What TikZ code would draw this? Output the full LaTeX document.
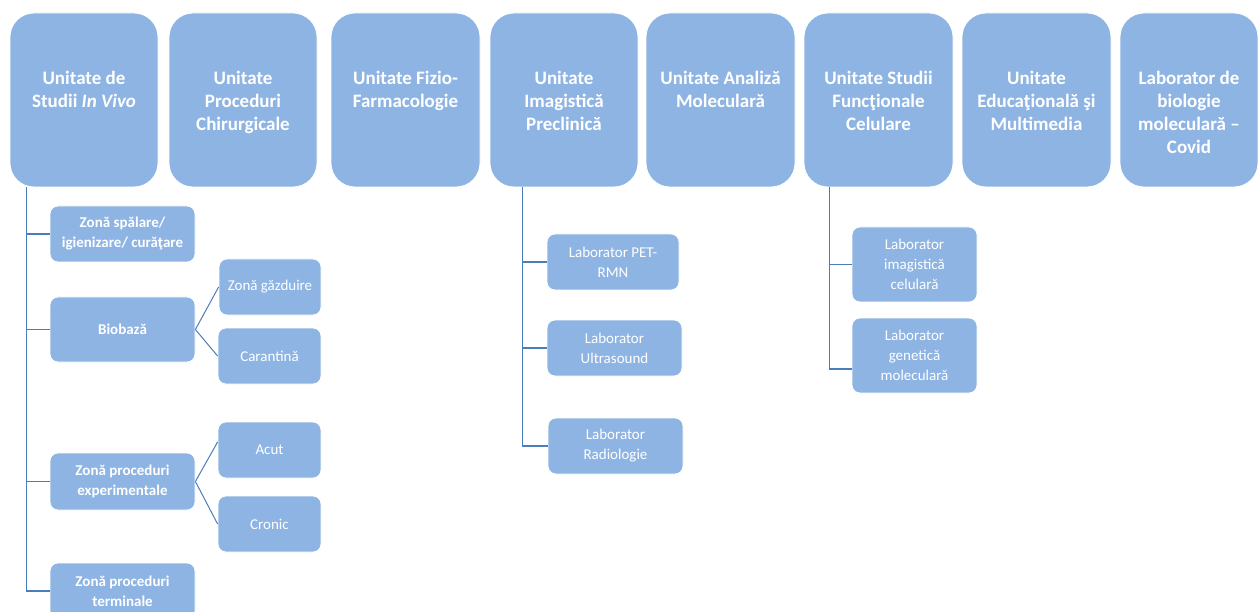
\documentclass[tikz,border=0pt]{standalone}
\usepackage{fontspec}
\setmainfont{Carlito}
\usetikzlibrary{calc}
\definecolor{boxblue}{RGB}{142,180,227}
\definecolor{linblue}{RGB}{74,126,187}
\begin{document}
\begin{tikzpicture}[x=1pt,y=-1pt,
  topbox/.style={fill=boxblue, draw=white, line width=0.8pt, rounded corners=24pt, minimum height=174pt, inner sep=0pt},
  toptext/.style={anchor=north, align=center, text=white, inner sep=0pt, font=\bfseries\fontsize{19}{23}\selectfont},
  subbold/.style={fill=boxblue, draw=white, line width=0.8pt, rounded corners=8pt, align=center, text=white, inner sep=0pt, font=\bfseries\fontsize{15}{20}\selectfont},
  subreg/.style={fill=boxblue, draw=white, line width=0.8pt, rounded corners=8pt, align=center, text=white, inner sep=0pt, font=\fontsize{15}{20}\selectfont},
  conn/.style={draw=linblue, line width=1.3pt}]
\useasboundingbox (0,0) rectangle (1258,612);
\clip (0,0) rectangle (1258,612);

% top units
\node[topbox, minimum width=148pt] (u1) at (84,100) {};
\node[topbox, minimum width=148pt] (u2) at (243,100) {};
\node[topbox, minimum width=149pt] (u3) at (405.5,100) {};
\node[topbox, minimum width=148pt] (u4) at (564,100) {};
\node[topbox, minimum width=149pt] (u5) at (720.5,100) {};
\node[topbox, minimum width=149pt] (u6) at (878.5,100) {};
\node[topbox, minimum width=149pt] (u7) at (1036.5,100) {};
\node[topbox, minimum width=138pt] (u8) at (1189,100) {};

\node[toptext] (t1) at (84,71) {Unitate de\\Studii \textit{In Vivo}};
\node[toptext] (t2) at (243,71) {Unitate\\Proceduri\\Chirurgicale};
\node[toptext] (t3) at (405.5,71) {Unitate Fizio-\\Farmacologie};
\node[toptext] (t4) at (564,71) {Unitate\\Imagistică\\Preclinică};
\node[toptext] (t5) at (720.5,71) {Unitate Analiză\\Moleculară};
\node[toptext] (t6) at (878.5,71) {Unitate Studii\\Funcţionale\\Celulare};
\node[toptext] (t7) at (1036.5,71) {Unitate\\Educaţională şi\\Multimedia};
\node[toptext] (t8) at (1189,71) {Laborator de\\biologie\\moleculară –\\Covid};

% left column
\node[subbold, minimum width=145pt, minimum height=56pt] (s1) at (122.5,234) {Zonă spălare/\\igienizare/ curăţare};
\node[subbold, minimum width=145pt, minimum height=65pt] (s2) at (122.5,329.5) {Biobază};
\node[subbold, minimum width=145pt, minimum height=57pt] (s3) at (122.5,481.5) {Zonă proceduri\\experimentale};
\node[subbold, minimum width=145pt, minimum height=56pt] (s4) at (122.5,591) {Zonă proceduri\\terminale};

\node[subreg, minimum width=102pt, minimum height=56pt] (g1) at (270,287) {Zonă găzduire};
\node[subreg, minimum width=103pt, minimum height=56pt] (g2) at (269.5,356) {Carantină};
\node[subreg, minimum width=103pt, minimum height=56pt] (a1) at (269.5,450) {Acut};
\node[subreg, minimum width=103pt, minimum height=56pt] (a2) at (269.5,524) {Cronic};

% middle column
\node[subreg, minimum width=132pt, minimum height=56pt] (m1) at (613,262) {Laborator PET-\\RMN};
\node[subreg, minimum width=135pt, minimum height=56pt] (m2) at (614.5,348) {Laborator\\Ultrasound};
\node[subreg, minimum width=135pt, minimum height=56pt] (m3) at (615.5,446) {Laborator\\Radiologie};

% right column
\node[subreg, minimum width=125pt, minimum height=75pt] (r1) at (914.5,264.5) {Laborator\\imagistică\\celulară};
\node[subreg, minimum width=125pt, minimum height=75pt] (r2) at (914.5,355.5) {Laborator\\genetică\\moleculară};

% connectors left
\coordinate (v1) at ($(u1.south west)+(17pt,0)$);
\draw[conn] (v1) |- (s4.west);
\draw[conn] (v1 |- s1.west) -- (s1.west);
\draw[conn] (v1 |- s2.west) -- (s2.west);
\draw[conn] (v1 |- s3.west) -- (s3.west);
\draw[conn, line width=1pt] (s2.east) -- (g1.west);
\draw[conn, line width=1pt] (s2.east) -- (g2.west);
\draw[conn, line width=1pt] (s3.east) -- ([yshift=8pt]a1.west);
\draw[conn, line width=1pt] (s3.east) -- (a2.west);

% connectors middle
\coordinate (v4) at ($(u4.south west)+(33pt,0)$);
\draw[conn] (v4) |- (m3.west);
\draw[conn] (v4 |- m1.west) -- (m1.west);
\draw[conn] (v4 |- m2.west) -- (m2.west);

% connectors right
\coordinate (v6) at ($(u6.south west)+(26pt,0)$);
\coordinate (r2in) at ([yshift=-13.5pt]r2.west);
\draw[conn] (v6) |- (r2in);
\draw[conn] (v6 |- r1.west) -- (r1.west);
\end{tikzpicture}
\end{document}
